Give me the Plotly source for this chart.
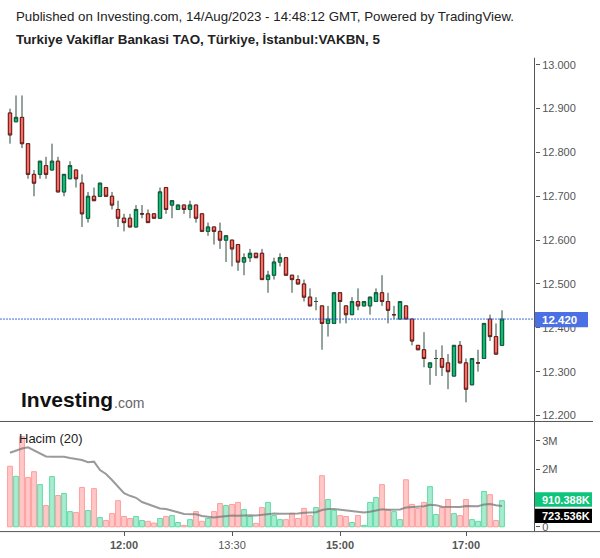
import plotly.graph_objects as go
import pandas as pd

# ---------------- data ----------------
opens = [12.89, 12.87, 12.88, 12.82, 12.75, 12.75, 12.77, 12.76, 12.78, 12.71,
         12.74, 12.76, 12.73, 12.65, 12.70, 12.70, 12.72, 12.70, 12.67, 12.65,
         12.65, 12.63, 12.66, 12.66, 12.66, 12.65, 12.72, 12.68, 12.67, 12.68,
         12.67, 12.68, 12.66, 12.62, 12.63, 12.62, 12.60, 12.60, 12.59, 12.55,
         12.56, 12.57, 12.57, 12.51, 12.52, 12.55, 12.56, 12.52, 12.51, 12.50,
         12.47, 12.46, 12.45, 12.41, 12.41, 12.48, 12.45, 12.43, 12.46, 12.45,
         12.45, 12.46, 12.48, 12.46, 12.43, 12.42, 12.45, 12.42, 12.36, 12.35,
         12.31, 12.33, 12.33, 12.32, 12.29, 12.36, 12.32, 12.27, 12.32, 12.33,
         12.42, 12.38, 12.36]
highs = [12.90, 12.93, 12.93, 12.82, 12.76, 12.78, 12.79, 12.82, 12.79, 12.75,
         12.78, 12.76, 12.75, 12.71, 12.72, 12.73, 12.72, 12.71, 12.69, 12.66,
         12.66, 12.68, 12.68, 12.67, 12.66, 12.72, 12.72, 12.69, 12.68, 12.68,
         12.69, 12.68, 12.66, 12.64, 12.63, 12.64, 12.61, 12.60, 12.59, 12.57,
         12.58, 12.57, 12.58, 12.53, 12.56, 12.57, 12.56, 12.52, 12.52, 12.51,
         12.49, 12.47, 12.45, 12.45, 12.48, 12.48, 12.45, 12.47, 12.49, 12.46,
         12.47, 12.49, 12.52, 12.48, 12.45, 12.46, 12.45, 12.42, 12.36, 12.39,
         12.32, 12.35, 12.36, 12.34, 12.36, 12.37, 12.33, 12.33, 12.35, 12.41,
         12.43, 12.41, 12.44]
lows = [12.82, 12.87, 12.81, 12.74, 12.70, 12.74, 12.74, 12.76, 12.71, 12.70,
        12.74, 12.72, 12.63, 12.64, 12.69, 12.70, 12.70, 12.67, 12.63, 12.62,
        12.63, 12.63, 12.65, 12.64, 12.65, 12.65, 12.66, 12.65, 12.67, 12.66,
        12.65, 12.64, 12.62, 12.61, 12.59, 12.58, 12.55, 12.54, 12.53, 12.52,
        12.55, 12.56, 12.51, 12.48, 12.51, 12.54, 12.52, 12.48, 12.50, 12.46,
        12.45, 12.44, 12.35, 12.38, 12.41, 12.41, 12.41, 12.43, 12.44, 12.45,
        12.43, 12.46, 12.45, 12.41, 12.42, 12.42, 12.42, 12.36, 12.35, 12.31,
        12.27, 12.29, 12.29, 12.26, 12.29, 12.32, 12.23, 12.27, 12.30, 12.33,
        12.37, 12.34, 12.36]
closes = [12.84, 12.88, 12.82, 12.75, 12.73, 12.78, 12.75, 12.78, 12.71, 12.75,
          12.77, 12.74, 12.66, 12.70, 12.69, 12.73, 12.70, 12.68, 12.65, 12.64,
          12.63, 12.67, 12.66, 12.64, 12.65, 12.71, 12.67, 12.69, 12.68, 12.67,
          12.68, 12.65, 12.62, 12.63, 12.62, 12.60, 12.61, 12.58, 12.55, 12.56,
          12.57, 12.56, 12.51, 12.52, 12.55, 12.56, 12.52, 12.51, 12.50, 12.47,
          12.45, 12.46, 12.41, 12.42, 12.48, 12.46, 12.43, 12.46, 12.45, 12.46,
          12.47, 12.48, 12.46, 12.44, 12.43, 12.46, 12.42, 12.37, 12.35, 12.33,
          12.32, 12.33, 12.31, 12.30, 12.36, 12.32, 12.26, 12.33, 12.32, 12.41,
          12.38, 12.34, 12.42]
volumes_m = [2.11, 1.76, 3.14, 1.72, 1.92, 1.47, 0.74, 1.75, 1.09, 1.16,
             0.53, 0.50, 1.37, 0.57, 1.33, 0.32, 0.22, 0.46, 0.91, 0.36,
             0.29, 0.36, 0.22, 0.19, 0.13, 0.29, 0.36, 0.39, 0.15, 0.05,
             0.25, 0.53, 0.19, 0.29, 0.53, 0.81, 0.74, 0.78, 0.85, 0.60,
             0.36, 0.12, 0.67, 0.85, 0.39, 0.25, 0.25, 0.47, 0.29, 0.64,
             0.39, 0.67, 1.78, 0.95, 0.57, 0.39, 0.36, 0.15, 0.39, 0.05,
             0.85, 1.02, 1.47, 0.60, 0.53, 0.25, 1.64, 0.78, 0.64, 0.85,
             1.40, 0.43, 0.67, 0.95, 0.46, 0.39, 0.95, 0.25, 0.19, 1.23,
             1.12, 0.22, 0.910388]
# MA(20) of volume for the first bars (depends on earlier, unseen bars)
ma_head_m = [2.58, 2.65, 2.73, 2.77, 2.67, 2.56, 2.45, 2.44, 2.44, 2.44,
             2.40, 2.36, 2.33, 2.25, 2.27, 1.98, 1.84, 1.63, 1.40]
tick_idx = [19, 37, 55, 76]
tick_text = ["<b>12:00</b>", "13:30", "<b>15:00</b>", "<b>17:00</b>"]
price_ticks = [12.2, 12.3, 12.4, 12.5, 12.6, 12.7, 12.8, 12.9, 13.0]
vol_ticks = [0, 2e6, 3e6]
vol_tick_text = ["0", "2M", "3M"]
last_price = 12.420
ma_last_label = "723.536K"

# ---------------- helpers ----------------
W, H = 600, 558
FONT = "Liberation Sans, Arial, sans-serif"


def py(p):
    return 1 - p / H


def px(p):
    return p / W


n = len(opens)
x = list(range(n))
vol = [v * 1e6 for v in volumes_m]
ma = pd.Series(vol).rolling(20).mean()
ma.iloc[:len(ma_head_m)] = [v * 1e6 for v in ma_head_m]
up = [c >= o for o, c in zip(opens, closes)]

GREEN = "#00c176"
RED = "#ff6a5f"
GREEN_EDGE = "#1c5a3d"
RED_EDGE = "#6b2020"
WICK = "#2b4a3b"

vol_fill = ["rgba(0,200,120,0.35)" if u else "rgba(255,110,110,0.38)" for u in up]
vol_edge = ["#5fdca6" if u else "#ff9c9c" for u in up]

body_hi = [max(o, c) for o, c in zip(opens, closes)]
body_lo = [min(o, c) for o, c in zip(opens, closes)]

fig = go.Figure()
fig.add_trace(go.Bar(x=x, y=vol, yaxis="y2", width=0.8,
                     marker=dict(color=vol_fill, line=dict(color=vol_edge, width=1)),
                     hoverinfo="skip"))
fig.add_trace(go.Scatter(x=x, y=ma, yaxis="y2", mode="lines",
                         line=dict(color="rgba(120,120,120,0.75)", width=2), hoverinfo="skip"))
# wicks
fig.add_trace(go.Candlestick(x=x, open=opens, high=highs, low=lows, close=closes,
                             increasing=dict(line=dict(color=WICK, width=1), fillcolor=GREEN),
                             decreasing=dict(line=dict(color=WICK, width=1), fillcolor=RED),
                             whiskerwidth=0, hoverinfo="skip"))
# bodies
fig.add_trace(go.Candlestick(x=x, open=opens, high=body_hi, low=body_lo, close=closes,
                             increasing=dict(line=dict(color=GREEN_EDGE, width=1), fillcolor=GREEN),
                             decreasing=dict(line=dict(color=RED_EDGE, width=1), fillcolor=RED),
                             whiskerwidth=0, hoverinfo="skip"))

x_lo, x_hi = -1.667, 87.5
y_top_px, y_bot_px = 58, 423
p_top = 13.0 - (y_top_px - 65) / 440
p_bot = 13.0 - (y_bot_px - 65) / 440
v_top = (528.7 - 423) / 28.8 * 1e6
v_bot = (528.7 - 533) / 28.8 * 1e6

axis_font = dict(family=FONT, size=11, color="#555")

fig.update_layout(
    width=W, height=H, margin=dict(l=0, r=0, t=0, b=0),
    paper_bgcolor="white", plot_bgcolor="white", showlegend=False,
    boxgap=0.22,
    font=dict(family=FONT),
    xaxis=dict(domain=[0, px(535)], range=[x_lo, x_hi], anchor="y2",
               tickvals=tick_idx, ticktext=tick_text, ticks="outside", ticklen=4,
               tickcolor="#555", showgrid=False, zeroline=False, showline=False,
               rangeslider=dict(visible=False), tickfont=axis_font),
    yaxis=dict(domain=[py(y_bot_px), py(y_top_px)], range=[p_bot, p_top], side="right",
               anchor="x", tickvals=price_ticks, tickformat=".3f", ticks="outside",
               ticklen=4, tickcolor="#555", showgrid=False, zeroline=False,
               showline=False, tickfont=axis_font),
    yaxis2=dict(domain=[py(533), py(423)], range=[v_bot, v_top], side="right",
                anchor="x", tickvals=vol_ticks, ticktext=vol_tick_text, ticks="outside",
                ticklen=4, tickcolor="#555", showgrid=False, zeroline=False,
                showline=False, tickfont=axis_font),
)

shapes = [
    # last price dotted line
    dict(type="line", xref="x", yref="y", x0=x_lo, x1=x_hi, y0=last_price, y1=last_price,
         line=dict(color="#3d6ce3", width=1, dash="2px,1px"), layer="above"),
    # frame lines
    dict(type="line", xref="paper", yref="paper", x0=px(534.5), x1=px(534.5),
         y0=py(58), y1=py(533), line=dict(color="#555", width=1), layer="above"),
    dict(type="line", xref="paper", yref="paper", x0=0, x1=px(593),
         y0=py(423), y1=py(423), line=dict(color="#555", width=1), layer="above"),
    dict(type="line", xref="paper", yref="paper", x0=0, x1=1,
         y0=py(533.5), y1=py(533.5), line=dict(color="#555", width=1), layer="above"),
    # labels on the axes
    dict(type="rect", xref="paper", yref="paper", x0=px(535), x1=px(588),
         y0=py(328.5), y1=py(313), fillcolor="#4a70e4", line=dict(width=0), layer="above"),
    dict(type="rect", xref="paper", yref="paper", x0=px(535), x1=px(592),
         y0=py(508.5), y1=py(494), fillcolor="#0cc47a", line=dict(width=0), layer="above"),
    dict(type="rect", xref="paper", yref="paper", x0=px(535), x1=px(592),
         y0=py(525), y1=py(510.5), fillcolor="#000000", line=dict(width=0), layer="above"),
]
fig.update_layout(shapes=shapes)

ann = [
    dict(text="Published on Investing.com, 14/Aug/2023 - 14:48:12 GMT, Powered by TradingView.",
         x=px(14), y=py(17), xanchor="left", yanchor="middle",
         font=dict(family=FONT, size=13.3, color="#222")),
    dict(text="<b>Turkiye Vakiflar Bankasi TAO, Türkiye, İstanbul:VAKBN, 5</b>",
         x=px(14), y=py(40), xanchor="left", yanchor="middle",
         font=dict(family=FONT, size=13.4, color="#222")),
    dict(text="<b>Investing</b>", x=px(19), y=py(401), xanchor="left", yanchor="middle",
         font=dict(family=FONT, size=21, color="#111")),
    dict(text=".com", x=px(112), y=py(404), xanchor="left", yanchor="middle",
         font=dict(family=FONT, size=14, color="#666")),
    dict(text="Hacim (20)", x=px(17), y=py(440), xanchor="left", yanchor="middle",
         font=dict(family=FONT, size=13, color="#222")),
    dict(text="<b>%.3f</b>" % last_price, x=px(540), y=py(320.7), xanchor="left",
         yanchor="middle", font=dict(family=FONT, size=11.5, color="white")),
    dict(text="<b>%.3fK</b>" % (vol[-1] / 1000), x=px(540), y=py(501.3), xanchor="left",
         yanchor="middle", font=dict(family=FONT, size=11, color="white")),
    dict(text="<b>%s</b>" % ma_last_label, x=px(540), y=py(517.8), xanchor="left",
         yanchor="middle", font=dict(family=FONT, size=11, color="white")),
]
for a in ann:
    a.update(xref="paper", yref="paper", showarrow=False)
fig.update_layout(annotations=ann)

fig.write_html("out.html")
